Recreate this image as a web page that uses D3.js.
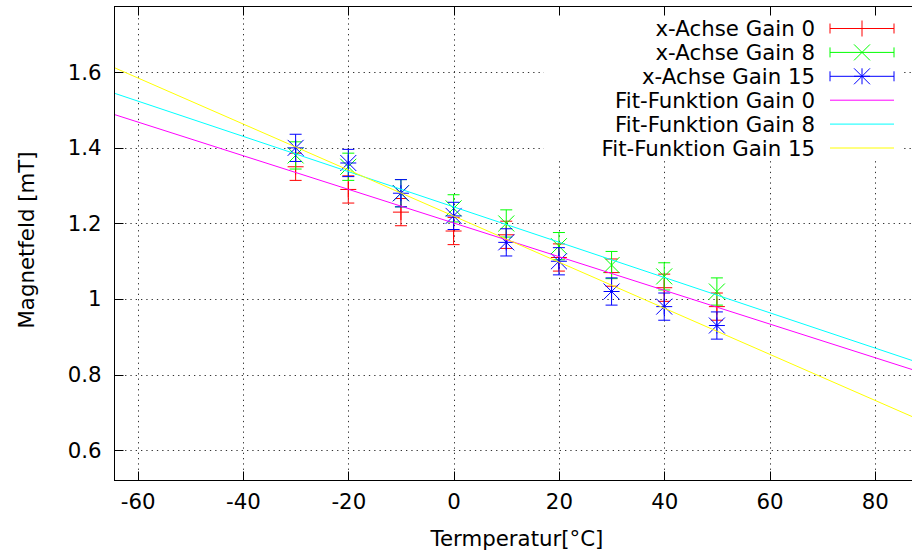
<!DOCTYPE html>
<html>
<head>
<meta charset="utf-8">
<script src="https://cdn.jsdelivr.net/npm/d3@7"></script>
<style>
  html, body { margin: 0; padding: 0; background: #fff; }
  svg { display: block; }
  text { font-family: "DejaVu Sans", sans-serif; fill: #000; }
</style>
</head>
<body>
<svg id="chart" width="912" height="552"></svg>
<script>
// Measured field at each temperature, one series per gain setting
const temps  = [-30, -20, -10, 0, 10, 20, 30, 40, 50];
const gain0  = [1.35, 1.29, 1.23, 1.18, 1.17, 1.11, 1.07, 1.03, 0.98];
const gain8  = [1.38, 1.35, 1.28, 1.24, 1.20, 1.14, 1.09, 1.06, 1.02];
const gain15 = [1.40, 1.36, 1.28, 1.22, 1.15, 1.10, 1.02, 0.98, 0.93];
const err0   = [0.036, 0.036, 0.036, 0.036, 0.036, 0.036, 0.036, 0.036, 0.036];
const err8   = [0.036, 0.036, 0.036, 0.036, 0.036, 0.036, 0.036, 0.036, 0.036];
const err15  = [0.036, 0.036, 0.036, 0.036, 0.036, 0.036, 0.036, 0.036, 0.036];

// Linear fits B(T) = intercept + slope * T
const fitSlope     = [-0.004453, -0.004667, -0.006093];
const fitIntercept = [1.2013, 1.2439, 1.2196];

const dataLabels = ["x-Achse Gain 0", "x-Achse Gain 8", "x-Achse Gain 15"];
const fitLabels  = ["Fit-Funktion Gain 0", "Fit-Funktion Gain 8", "Fit-Funktion Gain 15"];
const xTicks = [-60, -40, -20, 0, 20, 40, 60, 80];
const yTicks = [0.6, 0.8, 1, 1.2, 1.4, 1.6];
const xTitle = "Termperatur[°C]";
const yTitle = "Magnetfeld [mT]";

const dataColors = ["#ff0000", "#00ff00", "#0000ff"];
const fitColors  = ["#ff00ff", "#00ffff", "#ffff00"];
const symbols    = ["plus", "cross", "star"];

const FS = 21.3;
const svg = d3.select("#chart");
const L = 114.5, T = 6.5, B = 480.5, R = 927.5;

const x = d3.scaleLinear().domain([-64.4, 90]).range([L, R]);
const y = d3.scaleLinear().domain([0.52, 1.774]).range([B, T]);

svg.append("defs").append("clipPath").attr("id", "plotArea")
  .append("rect").attr("x", L).attr("y", T).attr("width", R - L).attr("height", B - T);

// Dotted grid
const grid = svg.append("g").attr("stroke", "#000").attr("stroke-width", 1)
  .attr("stroke-dasharray", "1.3,4").attr("opacity", 0.8);
grid.selectAll("line.gx").data(xTicks).join("line")
  .attr("x1", d => Math.round(x(d)) + 0.5).attr("x2", d => Math.round(x(d)) + 0.5)
  .attr("y1", B).attr("y2", T);
grid.selectAll("line.gy").data(yTicks).join("line")
  .attr("y1", d => Math.round(y(d)) + 0.5).attr("y2", d => Math.round(y(d)) + 0.5)
  .attr("x1", L).attr("x2", R);

// Axes: tick marks pointing inward, labels outside
const xAxisB = d3.axisBottom(x).tickValues(xTicks).tickSize(0).tickPadding(13).tickFormat(d => String(d));
svg.append("g").attr("transform", `translate(0,${B})`).call(xAxisB)
  .call(g => g.select(".domain").remove())
  .call(g => g.selectAll("text").attr("font-size", FS).attr("font-family", "DejaVu Sans"));

const yAxisL = d3.axisLeft(y).tickValues(yTicks).tickSize(0).tickPadding(13).tickFormat(d => String(d));
svg.append("g").attr("transform", `translate(${L},0)`).call(yAxisL)
  .call(g => g.select(".domain").remove())
  .call(g => g.selectAll("text").attr("font-size", FS).attr("font-family", "DejaVu Sans"));

const tickG = svg.append("g").attr("stroke", "#000").attr("stroke-width", 1);
xTicks.forEach(t => {
  const px = Math.round(x(t)) + 0.5;
  tickG.append("line").attr("x1", px).attr("x2", px).attr("y1", B).attr("y2", B - 9);
  tickG.append("line").attr("x1", px).attr("x2", px).attr("y1", T).attr("y2", T + 9);
});
yTicks.forEach(t => {
  const py = Math.round(y(t)) + 0.5;
  tickG.append("line").attr("x1", L).attr("x2", L + 9).attr("y1", py).attr("y2", py);
});

// Point symbols
function symbolPath(kind, cx, cy, s) {
  const p = d3.path();
  if (kind === "plus" || kind === "star") {
    p.moveTo(cx - s, cy); p.lineTo(cx + s, cy);
    p.moveTo(cx, cy - s); p.lineTo(cx, cy + s);
  }
  if (kind === "cross" || kind === "star") {
    p.moveTo(cx - s, cy - s); p.lineTo(cx + s, cy + s);
    p.moveTo(cx - s, cy + s); p.lineTo(cx + s, cy - s);
  }
  return p.toString();
}

function errorBar(g, cx, yv, e, color, kind) {
  const yTop = y(yv + e), yBot = y(yv - e), cy = y(yv);
  const p = d3.path();
  p.moveTo(cx, yTop); p.lineTo(cx, yBot);
  p.moveTo(cx - 6, yTop); p.lineTo(cx + 6, yTop);
  p.moveTo(cx - 6, yBot); p.lineTo(cx + 6, yBot);
  g.append("path").attr("d", p.toString()).attr("stroke", color).attr("fill", "none").attr("stroke-width", 1);
  g.append("path").attr("d", symbolPath(kind, cx, cy, 8)).attr("stroke", color).attr("fill", "none").attr("stroke-width", 1);
}

const plot = svg.append("g").attr("clip-path", "url(#plotArea)");
const series = [gain0, gain8, gain15];
const errors = [err0, err8, err15];

series.forEach((vals, si) => {
  const g = plot.append("g");
  vals.forEach((v, i) => errorBar(g, x(temps[i]), v, errors[si][i], dataColors[si], symbols[si]));
});

// Fit lines across the whole x range
const line = d3.line().x(d => x(d[0])).y(d => y(d[1]));
fitSlope.forEach((m, i) => {
  const [x0, x1] = x.domain();
  const pts = [[x0, fitIntercept[i] + m * x0], [x1, fitIntercept[i] + m * x1]];
  plot.append("path").attr("d", line(pts)).attr("stroke", fitColors[i])
    .attr("stroke-width", 1).attr("fill", "none");
});

// Key with opaque background
const key = svg.append("g");
key.append("rect").attr("x", 544).attr("y", 16).attr("width", 357).attr("height", 145).attr("fill", "#fff");
const rowY = i => 28.5 + i * 23.9;
const textR = 815, s0 = 830, s1 = 894, sc = 862;
dataLabels.forEach((lab, i) => {
  const cy = rowY(i);
  key.append("text").attr("x", textR).attr("y", cy + 7.5).attr("text-anchor", "end").attr("font-size", FS).text(lab);
  const p = d3.path();
  p.moveTo(s0, cy); p.lineTo(s1, cy);
  p.moveTo(s0, cy - 5); p.lineTo(s0, cy + 5);
  p.moveTo(s1, cy - 5); p.lineTo(s1, cy + 5);
  key.append("path").attr("d", p.toString()).attr("stroke", dataColors[i]).attr("fill", "none");
  key.append("path").attr("d", symbolPath(symbols[i], sc, cy, 8)).attr("stroke", dataColors[i]).attr("fill", "none");
});
fitLabels.forEach((lab, i) => {
  const cy = rowY(i + 3);
  key.append("text").attr("x", textR).attr("y", cy + 7.5).attr("text-anchor", "end").attr("font-size", FS).text(lab);
  key.append("line").attr("x1", s0).attr("x2", s1).attr("y1", cy).attr("y2", cy).attr("stroke", fitColors[i]);
});

// Frame (right edge lies beyond the visible area)
svg.append("rect").attr("x", L).attr("y", T).attr("width", R - L).attr("height", B - T)
  .attr("fill", "none").attr("stroke", "#000").attr("stroke-width", 1);

// Axis titles
svg.append("text").attr("x", 517).attr("y", 546).attr("text-anchor", "middle").attr("font-size", FS).text(xTitle);
svg.append("text").attr("transform", "translate(34,240) rotate(-90)").attr("text-anchor", "middle")
  .attr("font-size", FS).text(yTitle);
</script>
</body>
</html>
